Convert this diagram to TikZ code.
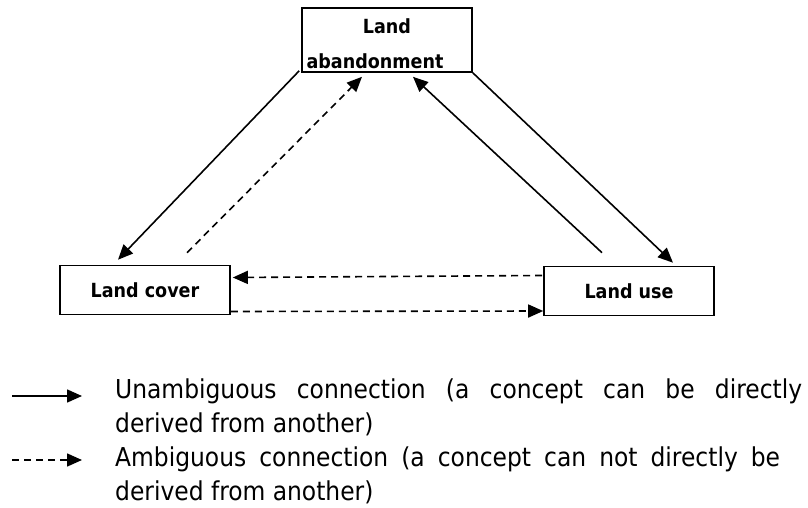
\documentclass[tikz,border=0pt]{standalone}
\usepackage{fontspec}
\setmainfont{DejaVu Sans Condensed}
\usetikzlibrary{arrows.meta}

\tikzstyle{concept} = [rectangle, minimum width=170pt, minimum height=49pt, draw=black, line width=1.6pt, font=\bfseries\fontsize{19.5}{24}\selectfont, text centered, fill=none]
\tikzstyle{legend} = [align=justify, inner sep=0pt, anchor=base west, font=\fontsize{26}{34}\selectfont]
\tikzstyle{arrow} = [line width=1.6pt, -{Triangle[length=15pt,width=13pt]}]
\tikzstyle{dasharrow} = [arrow, dash pattern=on 7pt off 5pt]

\begin{document}
\begin{tikzpicture}[x=1pt, y=1pt, node distance=250pt]
        \useasboundingbox (0,0) rectangle (808,-508);
        \node (Land Abandonment) [concept, minimum height=64pt, inner sep=0pt, align=center] at (387,-40) {\rule{0pt}{23pt}Land\\[11pt]abandonment\hspace*{24pt}};
        \node (Land Cover) [concept, below of = Land Abandonment, xshift = -242pt] {Land cover};
        \node (Land Use) [concept, right of = Land Cover, xshift = 234pt, yshift = -1pt] {Land use};

        \node (Solid Label) [legend, text width=687pt] at (115,-398) {Unambiguous connection (a concept can be directly\linebreak derived from another)};
        \node (Dashed Label) [legend, text width=665pt] at (115,-466) {Ambiguous connection (a concept can not directly be\linebreak derived from another)};
        \coordinate (Solid Start) at (12,-396);
        \coordinate (Solid End) at (82,-396);
        \coordinate (Dashed Start) at (12,-460);
        \coordinate (Dashed End) at (82,-460);

        \draw [arrow] ([shift={(-2pt,2pt)}]Land Abandonment.south west) -- ([shift={(-27pt,5pt)}]Land Cover.north);
        \draw [dasharrow] ([shift={(42pt,12pt)}]Land Cover.north) -- ([shift={(-25pt,-4pt)}]Land Abandonment.south);
        \draw [arrow] ([shift={(-27pt,13pt)}]Land Use.north) -- ([shift={(26pt,-4pt)}]Land Abandonment.south);
        \draw [arrow] (Land Abandonment.south east) -- ([shift={(44pt,3pt)}]Land Use.north);
        \draw [dasharrow] ([shift={(-1pt,15.5pt)}]Land Use.west) -- ([shift={(2pt,12.5pt)}]Land Cover.east);
        \draw [dasharrow] ([yshift=-21.5pt]Land Cover.east) -- ([yshift=-20pt]Land Use.west);

        \draw [arrow] (Solid Start) -- (Solid End);
        \draw [dasharrow] (Dashed Start) -- (Dashed End);
    \end{tikzpicture}
\end{document}
